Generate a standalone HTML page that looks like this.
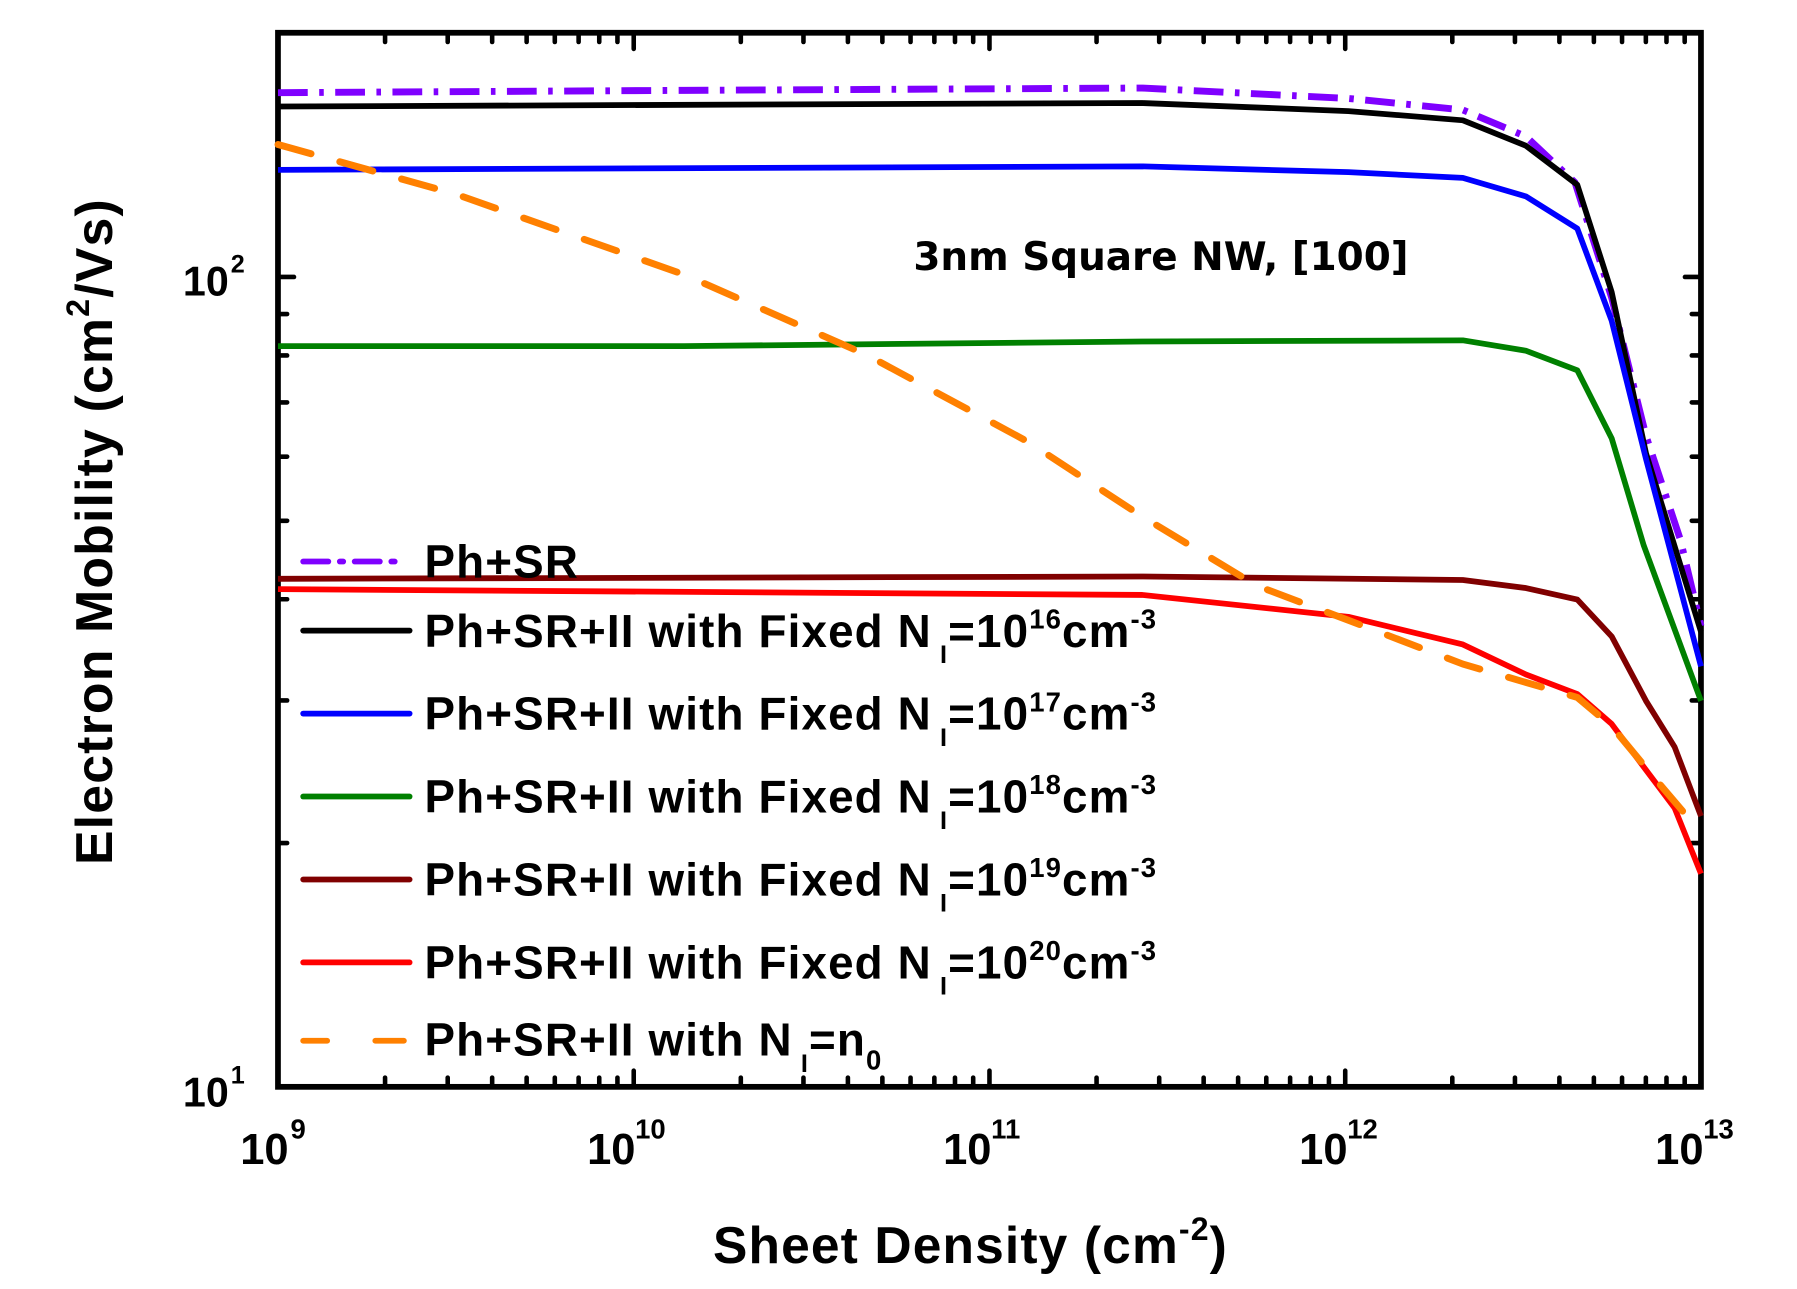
<!DOCTYPE html>
<html><head><meta charset="utf-8"><style>
html,body{margin:0;padding:0;background:#fff}
svg{display:block}
text{font-family:"Liberation Sans",Arial,sans-serif;font-weight:bold;fill:#000}
</style></head><body>
<svg width="1797" height="1289" viewBox="0 0 1797 1289" xmlns="http://www.w3.org/2000/svg">
<g transform="matrix(1.1448 0 0 1.152 -2.5 -1.8)">
<g id="ticks" stroke="#000" stroke-width="4" stroke-linecap="round"></g>
<rect x="245" y="30" width="1243" height="915" fill="none" stroke="#000" stroke-width="5"/>
<g fill="none" stroke-width="5" stroke-linejoin="round">
<polyline stroke="#7f00ff" stroke-width="6" stroke-dasharray="26,10,4,10" points="245,82 600,80 1000,78 1180,87 1280,97 1335,120 1378,160 1410,260 1440,380 1470,470 1488,545"/>
<polyline stroke="#000" points="245,94 1000,91 1180,98 1280,106 1335,128 1380,162 1410,255 1440,395 1488,550"/>
<polyline stroke="#0000ff" points="245,149 1000,146 1180,151 1280,156 1335,172 1380,200 1410,280 1440,400 1488,580"/>
<polyline stroke="#008000" points="245,302 600,302 1000,298 1280,297 1335,306 1380,323 1410,382 1438,475 1488,610"/>
<polyline stroke="#800000" points="245,504 1000,502 1280,505 1335,512 1380,522 1410,554 1440,610 1465,650 1488,710"/>
<polyline stroke="#ff0000" points="245,513 1000,518 1180,537 1280,561 1335,587 1380,604 1410,630 1440,670 1465,703 1488,760"/>
<polyline stroke="#ff8000" stroke-width="6" stroke-dasharray="30,26" stroke-linecap="round" points="245,127 400,170 600,240 760,310 900,385 1000,450 1100,510 1180,540 1280,578 1380,607 1410,632 1450,680 1480,715"/>
</g>
<g stroke-width="5" stroke-linecap="round">
<line x1="267" y1="489" x2="350" y2="489" stroke="#7f00ff" stroke-dasharray="22,10,3,10"/>
<line x1="267" y1="549" x2="360" y2="549" stroke="#000"/>
<line x1="267" y1="621" x2="360" y2="621" stroke="#0000ff"/>
<line x1="267" y1="693" x2="360" y2="693" stroke="#008000"/>
<line x1="267" y1="765" x2="360" y2="765" stroke="#800000"/>
<line x1="267" y1="837" x2="360" y2="837" stroke="#ff0000"/>
<line x1="267" y1="905" x2="288" y2="905" stroke="#ff8000"/>
<line x1="330" y1="905" x2="355" y2="905" stroke="#ff8000"/>
</g>
<g font-size="40" letter-spacing="1">
<text x="373" y="503">Ph+SR</text>
<text x="373" y="563">Ph+SR+II with Fixed N<tspan font-size="22" dy="14">  I</tspan><tspan dy="-14">=10</tspan><tspan font-size="24" dy="-16">16</tspan><tspan dy="16">cm</tspan><tspan font-size="24" dy="-16">-3</tspan></text>
<text x="373" y="635">Ph+SR+II with Fixed N<tspan font-size="22" dy="14">  I</tspan><tspan dy="-14">=10</tspan><tspan font-size="24" dy="-16">17</tspan><tspan dy="16">cm</tspan><tspan font-size="24" dy="-16">-3</tspan></text>
<text x="373" y="707">Ph+SR+II with Fixed N<tspan font-size="22" dy="14">  I</tspan><tspan dy="-14">=10</tspan><tspan font-size="24" dy="-16">18</tspan><tspan dy="16">cm</tspan><tspan font-size="24" dy="-16">-3</tspan></text>
<text x="373" y="779">Ph+SR+II with Fixed N<tspan font-size="22" dy="14">  I</tspan><tspan dy="-14">=10</tspan><tspan font-size="24" dy="-16">19</tspan><tspan dy="16">cm</tspan><tspan font-size="24" dy="-16">-3</tspan></text>
<text x="373" y="851">Ph+SR+II with Fixed N<tspan font-size="22" dy="14">  I</tspan><tspan dy="-14">=10</tspan><tspan font-size="24" dy="-16">20</tspan><tspan dy="16">cm</tspan><tspan font-size="24" dy="-16">-3</tspan></text>
<text x="373" y="918">Ph+SR+II with N<tspan font-size="22" dy="14">  I</tspan><tspan dy="-14">=n</tspan><tspan font-size="24" dy="12">0</tspan></text>
</g>
<text x="800" y="236" font-size="34" style="font-family:'DejaVu Sans',sans-serif">3nm Square NW, [100]</text>
<g font-size="36" style="font-family:'DejaVu Sans',sans-serif" text-anchor="end">
<text x="202" y="258">10</text><text x="216" y="238" font-size="22">2</text>
<text x="202" y="962">10</text><text x="216" y="942" font-size="22">1</text>
</g>
<g font-size="38">
<text x="212" y="1012">10</text><text x="256" y="990" font-size="24">9</text>
<text x="515" y="1012">10</text><text x="557" y="990" font-size="24">10</text>
<text x="826" y="1012">10</text><text x="868" y="990" font-size="24">11</text>
<text x="1137" y="1012">10</text><text x="1179" y="990" font-size="24">12</text>
<text x="1448" y="1012">10</text><text x="1490" y="990" font-size="24">13</text>
</g>
<text x="625" y="1098" font-size="45" letter-spacing="1">Sheet Density  (cm<tspan font-size="28" dy="-20">-2</tspan><tspan dy="20">)</tspan></text>
<text transform="translate(100,463) rotate(-90)" text-anchor="middle" font-size="45" letter-spacing="1">Electron Mobility  (cm<tspan font-size="28" dy="-20">2</tspan><tspan dy="20">/Vs)</tspan></text>
</g>
</svg>
<script>
(function(){
var g=document.getElementById('ticks'),s='';
function L(a,b,c,d){s+='<line x1="'+a+'" y1="'+b+'" x2="'+c+'" y2="'+d+'"/>';}
var X0=245,XD=310.75,Y10=945,YD=703;
for(var dec=9;dec<=13;dec++){for(var m=1;m<=9;m++){if(dec==13&&m>1)break;var x=X0+(dec-9+Math.log10(m))*XD;var len=(m==1)?14:8;L(x,945,x,945-len);L(x,30,x,30+len);}}
var vals=[10,20,30,40,50,60,70,80,90,100,200];
vals.forEach(function(v){var y=Y10-(Math.log10(v)-1)*YD;var len=(v==10||v==100)?14:8;L(245,y,245+len,y);L(1488,y,1488-len,y);});
g.innerHTML=s;
})();
</script>
</body></html>
